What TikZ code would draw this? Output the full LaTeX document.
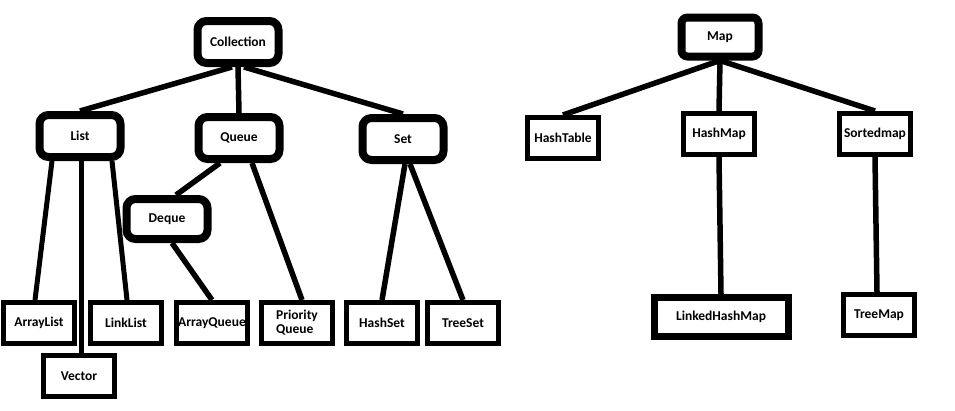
\documentclass[tikz,border=0pt]{standalone}
\usepackage{fontspec}
\setmainfont{Carlito}
\begin{document}
\begin{tikzpicture}[x=1pt,y=1pt,
  head/.style = {rectangle,draw=black,line width=8pt,rounded corners=9pt,minimum width=81pt,minimum height=42pt,inner sep=0pt,font=\bfseries\fontsize{13.5}{14}\selectfont},
  cell/.style = {rectangle,draw=black,line width=5pt,minimum width=71pt,minimum height=41pt,inner sep=0pt,align=left,font=\bfseries\fontsize{13.5}{14}\selectfont},
  link/.style = {draw=black,line width=5.5pt}]
\useasboundingbox (0,0) rectangle (955,-410);
\node[head] (coll)  at (238,-42)  {Collection};
\node[head] (list)  at (80,-136)  {List};
\node[head] (queue) at (239,-138) {Queue};
\node[head] (set)   at (403,-139) {Set};
\node[head,minimum height=40pt] (deque) at (167,-219) {Deque\hspace{10pt}};
\foreach \n/\t/\x in {alist/ArrayList/39, llist/LinkList/126, aqueue/ArrayQueue/212, pqueue/{Priority\\Queue}/297, hset/HashSet/382, tset/TreeSet/463}
    \node[cell] (\n) at (\x,-323) {\t};
\node[cell] (vector) at (79,-376) {Vector};
\node[head,minimum width=77pt,minimum height=39pt,rounded corners=6pt] (map) at (720,-37) {Map};
\node[cell] (htable) at (563,-138) {HashTable};
\node[cell] (hmap)   at (719,-134) {HashMap};
\node[cell] (smap)   at (875,-134) {Sortedmap};
\node[cell,line width=7pt,minimum width=134pt,minimum height=39pt] (lhmap) at (721,-317) {LinkedHashMap};
\node[cell] (tmap)   at (879,-315) {TreeMap};
\draw[link] ([xshift=-6pt]coll.south) -- (list.north);
\draw[link] (coll.south) -- (queue.north);
\draw[link] ([xshift=6pt]coll.south) -- (set.north);
\draw[link,line width=5pt] ([xshift=-28pt]list.south) -- ([xshift=-4pt]alist.north);
\draw[link,line width=5pt] ([xshift=1pt]list.south) -- ([xshift=2pt]vector.north);
\draw[link,line width=5pt] ([xshift=32pt]list.south) -- ([xshift=1pt]llist.north);
\draw[link] ([xshift=-19pt]queue.south) -- ([xshift=9pt]deque.north);
\draw[link] ([xshift=13pt]queue.south) -- ([xshift=5pt]pqueue.north);
\draw[link] ([xshift=5pt]deque.south) -- (aqueue.north);
\draw[link] ([xshift=2pt]set.south) -- (hset.north);
\draw[link] ([xshift=7pt]set.south) -- (tset.north);
\draw[link] (map.south) -- (htable.north);
\draw[link] (map.south) -- (hmap.north);
\draw[link] (map.south) -- (smap.north);
\draw[link] (hmap.south) -- (lhmap.north);
\draw[link] (smap.south) -- ([xshift=-2pt]tmap.north);
\end{tikzpicture}
\end{document}
